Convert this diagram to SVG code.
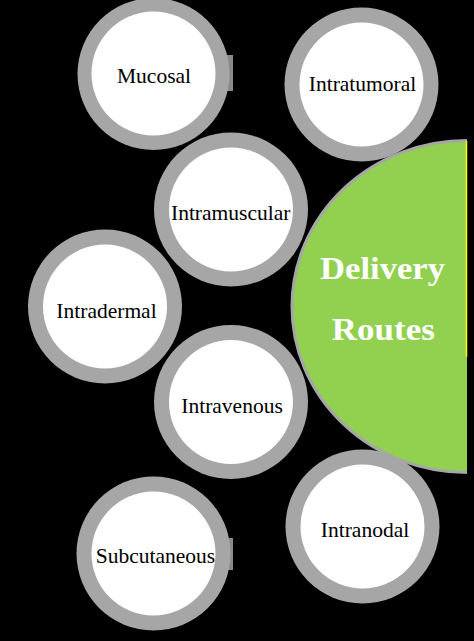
<svg xmlns="http://www.w3.org/2000/svg" width="474" height="641" viewBox="0 0 474 641">
<style>
.ring{fill:#a6a6a6}
.core{fill:#ffffff}
.tab{fill:#8a8a8a}
.lbl{font-size:21.5px;fill:#000;text-anchor:middle}
.hub{font-size:31px;font-weight:bold;fill:#ffffff;text-anchor:middle}
</style>
<defs>
<clipPath id="half"><rect x="0" y="0" width="467" height="641"/></clipPath>
</defs>
<rect x="0" y="0" width="474" height="641" fill="#000"/>
<g id="connectors"></g>
<g font-family="Liberation Serif, Tinos, Times New Roman, DejaVu Serif, serif">
<g id="mucosal">
<rect class="tab" x="226" y="55" width="7" height="36"/>
<circle class="ring" cx="153.5" cy="74" r="76"/>
<circle class="core" cx="153.5" cy="73.5" r="62"/>
<text class="lbl" x="154" y="83.3">Mucosal</text>
</g>
<g id="intratumoral">
<circle class="ring" cx="361.5" cy="84.5" r="77"/>
<circle class="core" cx="361.5" cy="84.5" r="62"/>
<text class="lbl" x="362.5" y="90.7">Intratumoral</text>
</g>
<g id="intramuscular">
<circle class="ring" cx="231" cy="209.5" r="77"/>
<circle class="core" cx="231" cy="209.5" r="62"/>
<text class="lbl" x="230.7" y="220">Intramuscular</text>
</g>
<g id="intradermal">
<circle class="ring" cx="105" cy="306.5" r="77"/>
<circle class="core" cx="105" cy="306.5" r="62"/>
<text class="lbl" x="106.5" y="317.7">Intradermal</text>
</g>
<g id="intravenous">
<circle class="ring" cx="231" cy="402" r="77"/>
<circle class="core" cx="231" cy="402" r="62"/>
<text class="lbl" x="232" y="412.7">Intravenous</text>
</g>
<g id="subcutaneous">
<rect class="tab" x="226" y="538" width="7" height="32"/>
<circle class="ring" cx="153.5" cy="553.5" r="77"/>
<circle class="core" cx="153.5" cy="553.5" r="62"/>
<text class="lbl" x="155.5" y="563.3">Subcutaneous</text>
</g>
<g id="intranodal">
<circle class="ring" cx="362.5" cy="526.5" r="77"/>
<circle class="core" cx="362.5" cy="526.5" r="62"/>
<text class="lbl" x="365" y="536.7">Intranodal</text>
</g>
<g id="delivery-routes">
<ellipse cx="467" cy="306.5" rx="175" ry="166" fill="#92d050" stroke="#a6a6a6" stroke-width="3" clip-path="url(#half)"/>
<line x1="466.5" y1="141" x2="466.5" y2="357" stroke="#ffff00" stroke-width="1.5"/>
<text class="hub" x="382.5" y="278.5" textLength="125" lengthAdjust="spacingAndGlyphs">Delivery</text>
<text class="hub" x="383.3" y="340" textLength="103" lengthAdjust="spacingAndGlyphs">Routes</text>
</g>
</g>
</svg>
